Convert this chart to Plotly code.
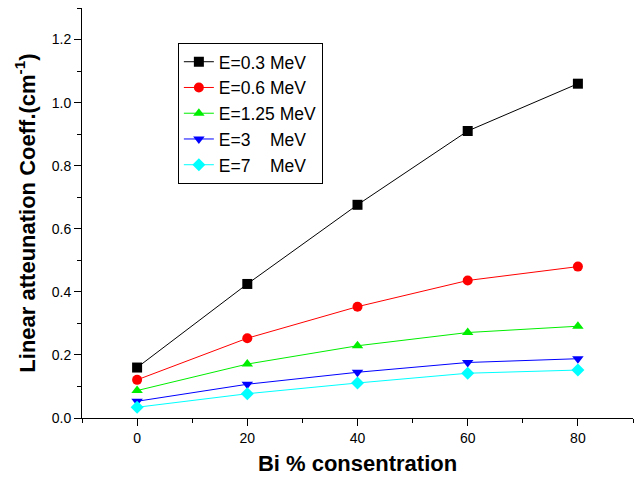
import plotly.graph_objects as go

bi_pct = [0, 20, 40, 60, 80]
e_03 = [0.160, 0.425, 0.676, 0.910, 1.060]
e_06 = [0.121, 0.253, 0.353, 0.436, 0.480]
e_125 = [0.087, 0.171, 0.229, 0.271, 0.291]
e_3 = [0.053, 0.107, 0.145, 0.176, 0.188]
e_7 = [0.034, 0.077, 0.111, 0.142, 0.152]

series = [
    ("E=0.3 MeV", e_03, "black", "square"),
    ("E=0.6 MeV", e_06, "red", "circle"),
    ("E=1.25 MeV", e_125, "#00ee00", "triangle-up"),
    ("E=3&nbsp;&nbsp;&nbsp;&nbsp;MeV", e_3, "blue", "triangle-down"),
    ("E=7&nbsp;&nbsp;&nbsp;&nbsp;MeV", e_7, "cyan", "diamond"),
]

fig = go.Figure()
for name, vals, col, sym in series:
    fig.add_trace(go.Scatter(
        x=bi_pct, y=vals, name=name, mode="lines+markers",
        line=dict(color=col, width=1),
        marker=dict(symbol=sym, size=10, color=col),
    ))

fig.update_layout(
    width=635, height=486,
    margin=dict(l=82, r=2, t=8, b=68),
    paper_bgcolor="white", plot_bgcolor="white",
    font=dict(family="Arial, Liberation Sans, sans-serif", size=14, color="black"),
    showlegend=True,
    legend=dict(
        x=0.174, y=0.915, xanchor="left", yanchor="top",
        bordercolor="black", borderwidth=1, bgcolor="white",
        font=dict(size=17.5), tracegroupgap=0,
    ),
    xaxis=dict(
        range=[-10, 90], tickmode="linear", tick0=0, dtick=20,
        showline=True, linecolor="black", linewidth=1,
        ticks="outside", ticklen=7, tickcolor="black",
        minor=dict(ticks="outside", dtick=10, tick0=0, ticklen=4, tickcolor="black"),
        showgrid=False, zeroline=False,
        title=dict(text="<b>Bi % consentration</b>", font=dict(size=22), standoff=10),
    ),
    yaxis=dict(
        range=[0, 1.3], tickmode="linear", tick0=0, dtick=0.2, tickformat=".1f",
        showline=True, linecolor="black", linewidth=1,
        ticks="outside", ticklen=7, tickcolor="black",
        minor=dict(ticks="outside", dtick=0.1, tick0=0, ticklen=4, tickcolor="black"),
        showgrid=False, zeroline=False,
        title=dict(text="<b>Linear atteunation Coeff.(cm<sup>-1</sup>)</b>", font=dict(size=22), standoff=10),
    ),
)

fig.write_html("out.html")
